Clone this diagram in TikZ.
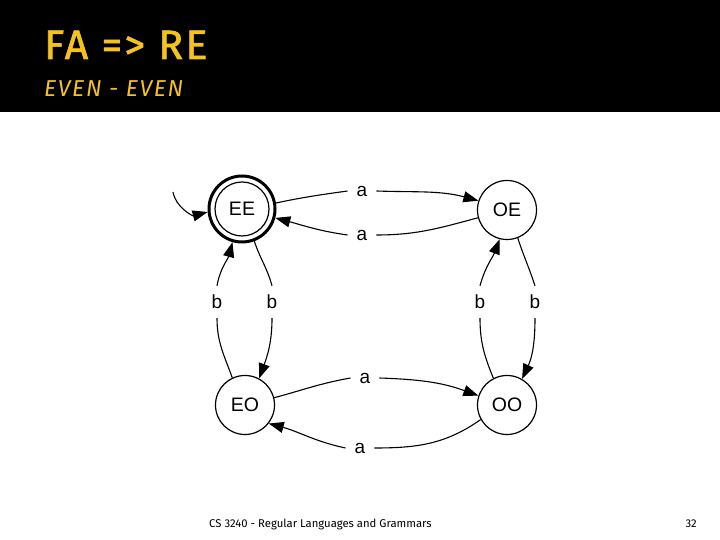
\documentclass[tikz,border=0pt]{standalone}
\usepackage{fontspec}
\setmainfont{Liberation Sans}
\newfontfamily\titlefont{Fira Sans}
\newfontfamily\titlefontsp[LetterSpace=6,FakeBold=1.5]{Fira Sans}
\newfontfamily\subfontsp[LetterSpace=7]{Fira Sans}
\usetikzlibrary{arrows.meta}
\definecolor{titleyellow}{RGB}{245,195,30}
\begin{document}
\begin{tikzpicture}[x=1pt,y=1pt,
  state/.style={circle,draw,line width=1.2pt,minimum size=59pt,inner sep=0pt,font=\fontsize{19.5}{20}\selectfont},
  lab/.style={inner xsep=9pt,inner ysep=9pt,font=\fontsize{19}{20}\selectfont},
  edge/.style={line width=1.1pt},
  arr/.style={edge,-{Triangle[length=15pt,width=11pt]}}]
\useasboundingbox (0,0) rectangle (720,540);
\fill[black] (0,428) rectangle (720,540);
\node[anchor=base west,inner sep=0pt,text=titleyellow,font=\titlefontsp\fontsize{41}{42}\selectfont] (title) at (44,481) {FA => RE};
\node[anchor=base west,inner sep=0pt,text=titleyellow,font=\subfontsp\itshape\fontsize{23}{24}\selectfont] (sub) at (44,443) {EVEN - EVEN};
% states
\node[state,line width=3pt,minimum size=66pt] (EE) at (242,331) {};
\node[state,minimum size=54pt] (EEin) at (242,331) {EE};
\node[state] (OE) at (507,330) {OE};
\node[state] (EO) at (245,135) {EO};
\node[state] (OO) at (507,135) {OO};
% labels
\node[lab] (la1) at (362,349) {a};
\node[lab] (la2) at (362,305) {a};
\node[lab] (la3) at (365,162) {a};
\node[lab] (la4) at (360,92) {a};
\node[lab] (lb1) at (217,238) {b};
\node[lab] (lb2) at (272,238) {b};
\node[lab] (lb3) at (480,238) {b};
\node[lab] (lb4) at (535,238) {b};
% start
\coordinate (s) at (173,348);
\draw[arr] (s) to[out=-80,in=195] (EE.185);
% EE <-> OE
\draw[edge] (EE.10) to[out=12,in=188] (la1.west);
\draw[arr] (la1.east) to[out=-2,in=165] (OE.162);
\draw[edge] (OE.195) to[out=195,in=0] (la2.east);
\draw[arr] (la2.west) to[out=172,in=-15] (EE.-15);
% EE <-> EO
\draw[edge] (EE.-69) to[out=-72,in=105] (lb2.north);
\draw[arr] (lb2.south) to[out=-90,in=70] (EO.62);
\draw[edge] (EO.115) to[out=110,in=-90] (lb1.south);
\draw[arr] (lb1.north) to[out=80,in=255] (EE.254);
% OE <-> OO
\draw[edge] (OO.117) to[out=112,in=-90] (lb3.south);
\draw[arr] (lb3.north) to[out=75,in=249] (OE.-104);
\draw[edge] (OE.-69) to[out=-72,in=108] (lb4.north);
\draw[arr] (lb4.south) to[out=-90,in=65] (OO.60);
% EO <-> OO
\draw[edge] (EO.14) to[out=15,in=190] (la3.west);
\draw[arr] (la3.east) to[out=-2,in=160] (OO.162);
\draw[edge] (OO.209) to[out=215,in=0] (la4.east);
\draw[arr] (la4.west) to[out=168,in=-15] (EO.-38);
% footer
\node[anchor=base west,inner sep=0pt,font=\titlefont\fontsize{11.3}{12}\selectfont] (foot) at (209,12) {CS 3240 - Regular Languages and Grammars};
\node[anchor=base east,inner sep=0pt,font=\titlefont\fontsize{11.3}{12}\selectfont] (page) at (697,12) {32};
\end{tikzpicture}
\end{document}
